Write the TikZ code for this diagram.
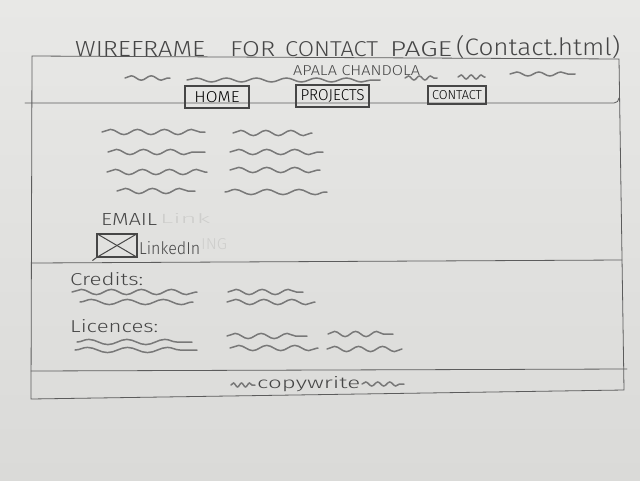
\documentclass[tikz,border=0pt]{standalone}
\usepackage{fontspec}
\usepackage{graphicx}
\newfontfamily\hand{Fira Sans Light}
\newfontfamily\handbold{Fira Sans}
\usetikzlibrary{decorations.pathmorphing}

\definecolor{papertop}{RGB}{232,232,230}
\definecolor{paperbot}{RGB}{218,218,216}
\definecolor{lead}{RGB}{92,92,92}
\definecolor{leaddark}{RGB}{70,70,70}
\definecolor{scribble}{RGB}{120,120,120}
\definecolor{ghost}{RGB}{206,206,204}

% fixed-size handwritten text: width, cap height, text
\newcommand\penword[3]{\resizebox{#1}{#2}{\hand #3}}
\newcommand\penwordb[3]{\resizebox{#1}{#2}{\handbold #3}}
% a wavy placeholder line for body copy
\newcommand\wavy[4][]{\draw[squig,#1] (#2,#4) -- (#3,#4);}

\tikzset{
  frameline/.style={draw=lead, line width=0.8pt, line cap=round},
  squig/.style={draw=scribble, line width=1.5pt, line cap=round,
    decorate, decoration={snake, segment length=27pt, amplitude=2.6pt}},
  penlabel/.style={inner sep=0pt, text=leaddark, anchor=base west},
  navbtn/.style={draw=leaddark, line width=1.1pt, inner sep=0pt},
}

\begin{document}
\begin{tikzpicture}[x=1pt,y=-1pt]
% paper
\shade[top color=papertop, bottom color=paperbot] (0,0) rectangle (640,480);
\useasboundingbox (0,0) rectangle (640,480);

% page title
\node[penlabel] (tW) at (75,56) {\penword{130pt}{15pt}{WIREFRAME}};
\node[penlabel] (tF) at (230,56) {\penword{45pt}{15pt}{FOR}};
\node[penlabel] (tC) at (285,56) {\penword{93pt}{15pt}{CONTACT}};
\node[penlabel] (tP) at (390,56) {\penword{62pt}{15pt}{PAGE}};
\node[penlabel] (tH) at (456,55) {\penword{164pt}{20pt}{(Contact.html)}};

% outer page frame
\coordinate (ftl) at (32,56);
\coordinate (ftr) at (619,59);
\coordinate (fbr) at (624,390);
\coordinate (fbl) at (31,399);
\draw[frameline] (ftl) -- (ftr) -- (fbr) -- (fbl) -- cycle;

% header lower edge
\coordinate (hl) at (25,103);
\coordinate (hr) at (614,103);
\draw[frameline] (hl) -- (hr) to[out=0,in=-90] (619,98);

% content / credits divider
\coordinate (dl) at (32,263);
\coordinate (dr) at (622,260);
\draw[frameline] (dl) -- (dr);

% footer divider
\coordinate (fl) at (31,371);
\coordinate (fr) at (627,369);
\draw[frameline] (fl) -- (fr);

% header: site name and filler lines
\node[penlabel] (name) at (293,75) {\penword{127pt}{10pt}{APALA CHANDOLA}};
\wavy[decoration={segment length=20pt, amplitude=2.2pt}]{125}{170}{78}
\wavy[decoration={segment length=30pt, amplitude=2pt}]{187}{380}{80}
\wavy[decoration={segment length=11pt, amplitude=2pt}]{405}{437}{78}
\wavy[decoration={segment length=10pt, amplitude=2pt}]{458}{485}{77}
\wavy[decoration={segment length=22pt, amplitude=2pt}]{510}{575}{74}

% navigation buttons
\node[navbtn, minimum width=64pt, minimum height=22pt] (home) at (217,97)
  {\penword{45pt}{11pt}{HOME}};
\node[navbtn, minimum width=73pt, minimum height=22pt] (projects) at (332.5,96)
  {\penword{64pt}{11pt}{PROJECTS}};
\node[navbtn, minimum width=58pt, minimum height=18pt] (contact) at (457,95)
  {\penword{50pt}{9pt}{CONTACT}};

% contact copy, two columns
\wavy{102}{205}{132}
\wavy{108}{205}{152}
\wavy{107}{207}{172}
\wavy{117}{195}{191}
\wavy[decoration={segment length=25pt}]{233}{312}{133}
\wavy[decoration={segment length=28pt}]{230}{323}{152}
\wavy[decoration={segment length=28pt}]{230}{320}{170}
\wavy[decoration={segment length=32pt}]{225}{327}{192}

% email and linkedin
\node[penlabel] (email) at (101,225) {\penword{56pt}{12pt}{EMAIL}};
\node[penlabel, text=ghost] (emailghost) at (160,223) {\penword{50pt}{10pt}{Link}};
\node[draw=leaddark, line width=1.1pt, minimum width=40pt, minimum height=23pt,
  inner sep=0pt] (lnicon) at (117,245.5) {};
\draw[draw=leaddark, line width=1pt] (lnicon.north west) -- (lnicon.south east);
\draw[draw=leaddark, line width=1pt] (lnicon.south west) -- (lnicon.north east);
\draw[draw=leaddark, line width=1pt] (lnicon.south west) -- ++(-4,3);
\node[penlabel] (linkedin) at (139,254) {\penword{61pt}{13pt}{LinkedIn}};
\node[penlabel, text=ghost] (lnghost) at (201,249) {\penword{26pt}{11pt}{ING}};

% credits
\node[penlabel] (credits) at (70,285) {\penword{73pt}{13pt}{Credits:}};
\wavy[decoration={segment length=30pt}]{72}{197}{292}
\wavy[decoration={segment length=36pt}]{80}{193}{302}
\wavy[decoration={segment length=26pt}]{228}{303}{292}
\wavy[decoration={segment length=28pt}]{227}{315}{302}

% licences
\node[penlabel] (licences) at (70,332) {\penword{88pt}{13pt}{Licences:}};
\wavy[decoration={segment length=38pt}]{77}{192}{342}
\wavy[decoration={segment length=40pt}]{75}{197}{350}
\wavy[decoration={segment length=26pt}]{227}{307}{336}
\wavy[decoration={segment length=28pt}]{230}{318}{348}
\wavy[decoration={segment length=21pt}]{328}{393}{334}
\wavy[decoration={segment length=24pt}]{327}{402}{349}

% footer
\wavy[decoration={segment length=8pt, amplitude=2pt}]{231}{255}{385}
\node[penlabel] (copy) at (257,388) {\penword{103pt}{12pt}{copywrite}};
\wavy[decoration={segment length=12pt, amplitude=2pt}]{362}{404}{384}
\end{tikzpicture}
\end{document}
